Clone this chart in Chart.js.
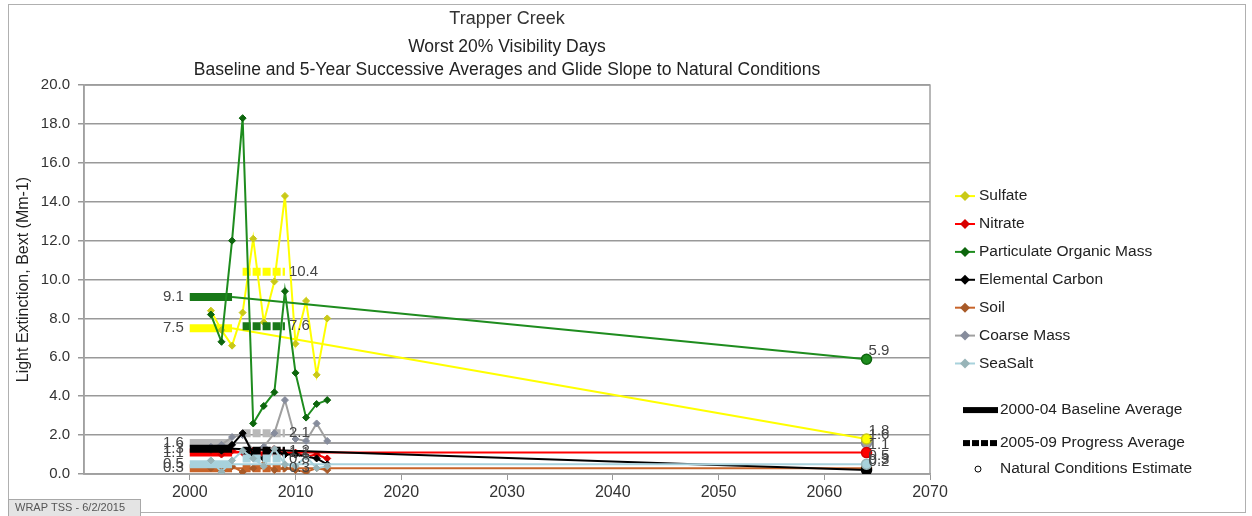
<!DOCTYPE html>
<html>
<head>
<meta charset="utf-8">
<script src="https://cdn.jsdelivr.net/npm/chart.js@4.4.0/dist/chart.umd.min.js"></script>
<style>
  html, body { margin: 0; padding: 0; background: #fff; }
  #wrap { width: 1252px; height: 516px; position: relative; }
</style>
</head>
<body>
<div id="wrap"><canvas id="trapper"></canvas></div>
<script>
// annual values, worst 20% days
const years = [2002, 2003, 2004, 2005, 2006, 2007, 2008, 2009, 2010, 2011, 2012, 2013];
const sulfate = [8.4, 7.4, 6.6, 8.3, 12.1, 7.8, 9.9, 14.3, 6.7, 8.9, 5.1, 8.0];
const nitrate = [1.2, 1.0, 1.2, 1.1, 1.2, 1.0, 1.3, 1.0, 1.1, 0.9, 1.0, 0.8];
const pom = [8.2, 6.8, 12.0, 18.3, 2.6, 3.5, 4.2, 9.4, 5.2, 2.9, 3.6, 3.8];
const elemCarbon = [1.3, 1.2, 1.5, 2.1, 1.0, 0.8, 1.2, 1.0, 1.0, 0.9, 0.8, 0.5];
const soil = [0.3, 0.2, 0.4, 0.1, 0.3, 0.5, 0.2, 0.3, 0.2, 0.1, 0.3, 0.2];
const coarseMass = [1.4, 1.5, 1.9, 2.0, 1.2, 1.4, 2.1, 3.8, 1.8, 1.7, 2.6, 1.7];
const seaSalt = [0.7, 0.1, 0.7, 1.2, 0.8, 0.4, 1.3, 0.5, 0.4, 0.9, 0.3, 0.4];

const species = ['Sulfate', 'Nitrate', 'Particulate Organic Mass', 'Elemental Carbon', 'Soil', 'Coarse Mass', 'SeaSalt'];
const annual = [sulfate, nitrate, pom, elemCarbon, soil, coarseMass, seaSalt];

// averages and natural conditions (same order as species)
const baselineYears = [2000, 2004];
const progressYears = [2005, 2009];
const naturalYear = 2064;
const baselineAvg = [7.5, 1.1, 9.1, 1.3, 0.3, 1.6, 0.5];
const progressAvg = [10.4, 1.1, 7.6, 1.2, 0.3, 2.1, 0.8];
const naturalEst = [1.8, 1.1, 5.9, 0.2, 0.3, 1.6, 0.5];

const xTicks = [2000, 2010, 2020, 2030, 2040, 2050, 2060, 2070];

const lineColors = ['#ffff00', '#ff0000', '#1e8c1e', '#000000', '#c8642a', '#a0a0a0', '#a8d2dc'];
const markColors = ['#c9c917', '#d80000', '#0d660d', '#000000', '#a85a28', '#868c9c', '#98b4b8'];
const barColors = ['#ffff00', '#ff0000', '#187818', '#000000', '#c8642a', '#b8b8b8', '#a8d2dc'];
// POM on top, then sulfate, then the rest
const drawOrder = [2, 5, 1, 4, 6, 7, 3];

const FONT = '"Liberation Sans", Arial, sans-serif';

const datasets = [];
species.forEach((name, i) => {
  const base = { order: drawOrder[i], fill: false, tension: 0 };
  datasets.push(Object.assign({}, base, {
    label: name,
    data: years.map((yr, k) => ({ x: yr, y: annual[i][k] })),
    borderColor: lineColors[i],
    backgroundColor: markColors[i],
    pointBorderColor: markColors[i],
    borderWidth: 2,
    pointStyle: 'rectRot',
    pointRadius: 3.5,
    pointBorderWidth: 1
  }));
  datasets.push(Object.assign({}, base, {
    label: name + ' baseline',
    data: baselineYears.map(yr => ({ x: yr, y: baselineAvg[i] })),
    borderColor: barColors[i],
    borderWidth: 8,
    borderCapStyle: 'butt',
    pointRadius: 0,
    valueLabel: 'left'
  }));
  datasets.push(Object.assign({}, base, {
    label: name + ' progress',
    data: progressYears.map(yr => ({ x: yr, y: progressAvg[i] })),
    borderColor: barColors[i],
    borderWidth: 8,
    borderDash: [8, 2],
    borderCapStyle: 'butt',
    pointRadius: 0,
    valueLabel: 'right'
  }));
  datasets.push(Object.assign({}, base, {
    label: name + ' glide',
    data: [{ x: baselineYears[1], y: baselineAvg[i] }, { x: naturalYear, y: naturalEst[i] }],
    borderColor: lineColors[i],
    borderWidth: 2,
    pointRadius: [0, 5],
    pointStyle: 'circle',
    pointBackgroundColor: lineColors[i],
    pointBorderColor: markColors[i],
    pointBorderWidth: 1.5,
    valueLabel: 'natural'
  }));
});

const valueLabels = {
  id: 'valueLabels',
  afterDatasetsDraw(chart) {
    const ctx = chart.ctx;
    ctx.save();
    ctx.font = '15px ' + FONT;
    ctx.fillStyle = '#444';
    ctx.textBaseline = 'middle';
    chart.data.datasets.forEach((ds, i) => {
      if (!ds.valueLabel) return;
      const pts = chart.getDatasetMeta(i).data;
      if (ds.valueLabel === 'left') {
        ctx.textAlign = 'right';
        ctx.fillText(ds.data[0].y.toFixed(1), pts[0].x - 6, pts[0].y);
      } else if (ds.valueLabel === 'right') {
        ctx.textAlign = 'left';
        ctx.fillText(ds.data[1].y.toFixed(1), pts[1].x + 4, pts[1].y);
      } else {
        ctx.textAlign = 'left';
        ctx.fillText(ds.data[1].y.toFixed(1), pts[1].x + 2, pts[1].y - 8);
      }
    });
    ctx.restore();
  }
};

const decorations = {
  id: 'decorations',
  beforeDatasetsDraw(chart) {
    const a = chart.chartArea;
    const ctx = chart.ctx;
    ctx.save();
    ctx.strokeStyle = '#a0a0a0';
    ctx.lineWidth = 1.5;
    ctx.strokeRect(a.left, a.top, a.right - a.left, a.bottom - a.top);
    ctx.restore();
  },
  afterDraw(chart) {
    const a = chart.chartArea;
    const ctx = chart.ctx;
    ctx.save();
    // outer frame
    ctx.strokeStyle = '#b0b0b0';
    ctx.lineWidth = 1;
    ctx.strokeRect(8.5, 4.5, 1237, 508);

    // legend
    ctx.textBaseline = 'middle';
    ctx.textAlign = 'left';
    ctx.font = '15.5px ' + FONT;
    species.forEach((name, i) => {
      const y = a.top + 111 + i * 27.9;
      const x = a.right + 35;
      ctx.strokeStyle = lineColors[i];
      ctx.lineWidth = 2;
      ctx.beginPath();
      ctx.moveTo(x - 10, y);
      ctx.lineTo(x + 10, y);
      ctx.stroke();
      ctx.fillStyle = markColors[i];
      ctx.beginPath();
      ctx.moveTo(x, y - 5);
      ctx.lineTo(x + 5, y);
      ctx.lineTo(x, y + 5);
      ctx.lineTo(x - 5, y);
      ctx.closePath();
      ctx.fill();
      ctx.fillStyle = '#222';
      ctx.fillText(name, x + 14, y);
    });
    const lx = a.right + 33;
    ctx.fillStyle = '#000';
    ctx.fillRect(lx, a.top + 322, 35, 6);
    for (let k = 0; k < 4; k++) {
      ctx.fillRect(lx + k * 9, a.top + 355, 7, 6);
    }
    ctx.strokeStyle = '#000';
    ctx.lineWidth = 1;
    ctx.beginPath();
    ctx.arc(lx + 15, a.top + 384, 3, 0, Math.PI * 2);
    ctx.stroke();
    ctx.fillStyle = '#222';
    ctx.fillText('2000-04 Baseline Average', lx + 37, a.top + 325);
    ctx.fillText('2005-09 Progress Average', lx + 37, a.top + 358);
    ctx.fillText('Natural Conditions Estimate', lx + 37, a.top + 384);

    // footer stamp
    ctx.fillStyle = '#e4e4e4';
    ctx.fillRect(8, 499, 132, 17);
    ctx.strokeStyle = '#a8a8a8';
    ctx.strokeRect(8.5, 499.5, 132, 17);
    ctx.fillStyle = '#555';
    ctx.font = '11px ' + FONT;
    ctx.fillText('WRAP TSS - 6/2/2015', 15, 508);
    ctx.restore();
  }
};

const ctx = document.getElementById('trapper');

const trapperChart = new Chart(ctx, {
  type: 'line',
  data: { datasets: datasets },
  options: {
    responsive: true,
    maintainAspectRatio: false,
    animation: false,
    layout: { padding: { left: 8, right: 322, top: 0, bottom: 18 } },
    plugins: {
      legend: { display: false },
      tooltip: { enabled: false },
      title: {
        display: true,
        text: 'Trapper Creek',
        fullSize: false,
        color: '#333',
        font: { family: FONT, size: 18, weight: 'normal', lineHeight: 1.2 },
        padding: { top: 8, bottom: 6 }
      },
      subtitle: {
        display: true,
        text: ['Worst 20% Visibility Days', 'Baseline and 5-Year Successive Averages and Glide Slope to Natural Conditions'],
        fullSize: false,
        color: '#222',
        font: { family: FONT, size: 17.5, weight: 'normal', lineHeight: 1.314 },
        padding: { top: 0, bottom: 3.5 }
      }
    },
    scales: {
      x: {
        type: 'linear',
        min: 1990,
        max: 2070,
        afterBuildTicks(scale) { scale.ticks = xTicks.map(v => ({ value: v })); },
        ticks: {
          callback: v => String(v),
          color: '#333',
          font: { family: FONT, size: 16 },
          padding: 3,
          maxRotation: 0,
          autoSkip: false
        },
        grid: { drawOnChartArea: false, drawTicks: true, tickLength: 6, color: '#999' },
        border: { color: '#a0a0a0', width: 1.5 },
        afterFit(scale) { scale.height = 24; }
      },
      y: {
        min: 0,
        max: 20,
        ticks: {
          stepSize: 2,
          callback: v => v.toFixed(1),
          color: '#333',
          font: { family: FONT, size: 15 },
          padding: 8
        },
        grid: { color: '#999', lineWidth: 1.5, tickLength: 6 },
        border: { color: '#a0a0a0', width: 1.5 },
        title: {
          display: true,
          text: 'Light Extinction, Bext (Mm-1)',
          color: '#222',
          font: { family: FONT, size: 16 },
          padding: { top: 6, bottom: 0 }
        },
        afterFit(scale) { scale.width = 76; }
      }
    }
  },
  plugins: [valueLabels, decorations]
});
</script>
</body>
</html>
